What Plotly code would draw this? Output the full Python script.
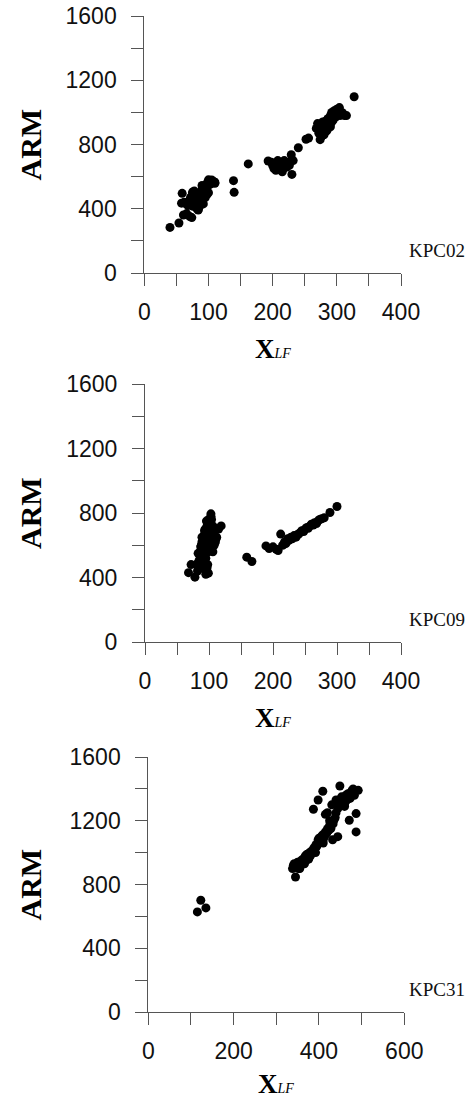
import plotly.graph_objects as go

# ---------------- data ----------------
kpc02_x = [40, 54, 59, 61, 71, 76, 58, 62, 65, 68, 70, 72, 74, 75, 76, 78, 80, 80, 82, 84,
           85, 86, 88, 88, 90, 90, 92, 94, 95, 96, 98, 98, 100, 102, 104, 106, 108, 110, 86, 92,
           78, 74, 66, 90, 96, 100, 84, 80, 105, 110, 84,
           139, 140, 162,
           193, 198, 200, 202, 205, 207, 208, 210, 212, 213, 215, 217, 218, 220, 222, 224, 226, 230,
           229, 232, 205, 215, 210,
           240, 252, 256,
           268, 270, 272, 274, 275, 276, 278, 280, 280, 282, 284, 285, 286, 288, 290, 290, 292, 294,
           295, 296, 298, 300, 300, 302, 304, 305, 308, 310, 312, 315, 272, 276, 283, 292, 327]
kpc02_y = [284, 311, 496, 361, 351, 506, 435, 440, 430, 420, 445, 470, 440, 500, 415, 455, 480, 430, 400, 395,
           450, 470, 440, 500, 460, 520, 480, 510, 470, 540, 490, 560, 580, 550, 570, 560, 570, 565, 415, 430,
           510, 345, 370, 545, 520, 500, 490, 460, 579, 558, 392,
           575, 502, 679,
           697, 690, 670, 650, 640, 680, 700, 660, 690, 640, 670, 650, 700, 680, 660, 690, 670, 614,
           736, 700, 660, 630, 645,
           780, 833, 840,
           900, 930, 870, 830, 910, 880, 940, 900, 860, 920, 950, 890, 960, 930, 980, 910, 1000, 950,
           990, 1010, 970, 1020, 990, 1000, 1030, 980, 1000, 990, 980, 980, 920, 850, 880, 940, 1097]

kpc09_x = [68, 78, 99, 72, 82, 85, 86, 88, 88, 89, 90, 90, 91, 92, 92, 93, 94, 94, 95, 95,
           96, 96, 97, 97, 98, 98, 99, 99, 100, 100, 101, 101, 102, 102, 103, 103, 104, 104, 105, 106,
           107, 108, 110, 112, 115, 119, 103, 100, 92, 88, 95, 97, 105, 110, 84, 90,
           80, 86, 83, 89, 87, 93, 96, 108, 111, 106,
           159, 167,
           189, 194, 200, 205, 208, 212, 215, 218, 220, 223, 225, 228, 230, 233, 236, 238, 240, 243,
           245, 248, 250, 253, 255, 258, 260, 263, 265, 268, 270, 273, 276, 280, 289, 300]
kpc09_y = [430, 402, 427, 480, 440, 470, 520, 560, 600, 650, 500, 620, 540, 580, 660, 450, 600, 700, 520, 640,
           560, 680, 600, 720, 480, 640, 560, 700, 620, 740, 660, 760, 580, 700, 640, 780, 680, 760, 700, 720,
           660, 690, 700, 650, 700, 720, 795, 760, 470, 530, 420, 460, 600, 620, 500, 580,
           480, 510, 550, 620, 590, 690, 750, 600, 640, 560,
           526, 499,
           596, 580, 590, 575, 567, 669, 600, 620, 610, 640, 630, 650, 640, 660, 650, 665, 670, 680,
           690, 685, 700, 710, 705, 720, 730, 725, 740, 735, 750, 760, 764, 770, 803, 840]

kpc31_x = [123, 115, 135,
           340, 345, 338, 342, 348, 350, 353, 355, 358, 360, 363, 365, 368, 370, 372, 375, 378, 380,
           383, 385, 388, 390, 393, 395, 398, 400, 402, 405, 408, 410, 413, 415, 418, 420, 423, 425,
           428, 430, 433, 435, 438, 440, 442, 445, 448, 450, 453, 455, 458, 460, 463, 465, 468, 470,
           473, 475, 478, 480, 483, 487, 487, 492, 471, 449, 409, 387, 398, 430, 420, 440, 460, 425,
           352, 366, 376, 392, 410, 432, 444, 415]
kpc31_y = [701, 628, 653,
           920, 847, 900, 930, 910, 940, 920, 900, 950, 930, 960, 940, 980, 950, 990, 970, 1000, 980,
           1010, 1000, 1030, 1020, 1050, 1040, 1080, 1090, 1070, 1098, 1110, 1080, 1100, 1130, 1120, 1150,
           1140, 1170, 1151, 1190, 1180, 1203, 1220, 1250, 1300, 1280, 1330, 1310, 1350, 1320, 1340, 1300,
           1360, 1330, 1370, 1350, 1340, 1380, 1390, 1400, 1360, 1130, 1245, 1391, 1203, 1418, 1385, 1272,
           1330, 1300, 1250, 1330, 1290, 1200,
           900, 930, 960, 1000, 1060, 1080, 1100, 1240]

x_ranges = [[0, 400], [0, 400], [0, 600]]
x_dticks = [100, 100, 200]
x_minor = [50, 50, 100]
y_range = [0, 1600]
y_dtick = 400
y_minor = 200
labels = ["KPC02", "KPC09", "KPC31"]

W, H = 476, 1101
panels = [(144.3, 401, 16, 273), (145, 401, 384, 642), (148.3, 404.3, 757, 1012)]
xtitle_offset = [76, 76, 72]

fig = go.Figure()
datasets = [(kpc02_x, kpc02_y), (kpc09_x, kpc09_y), (kpc31_x, kpc31_y)]
axis_col = "#555555"
tick_font = dict(family="Liberation Sans, Arial, sans-serif", size=23, color="#111111")
serif = "Liberation Serif, Times New Roman, serif"

annotations = []
for i, ((xs, ys), (l, r, t, b)) in enumerate(zip(datasets, panels)):
    n = "" if i == 0 else str(i + 1)
    fig.add_trace(go.Scatter(x=xs, y=ys, mode="markers",
                             marker=dict(color="black", size=9, line=dict(width=0)),
                             xaxis="x" + n, yaxis="y" + n, showlegend=False))
    xd = [l / W, r / W]
    yd = [1 - b / H, 1 - t / H]
    fig.layout["xaxis" + n] = dict(
        domain=xd, range=x_ranges[i], dtick=x_dticks[i], tick0=0, anchor="y" + n,
        automargin=False,
        showline=True, linecolor=axis_col, linewidth=1, showgrid=False, zeroline=False,
        ticks="outside", ticklen=12, tickcolor=axis_col, tickwidth=1,
        minor=dict(dtick=x_minor[i], ticks="outside", ticklen=12, tickcolor=axis_col,
                   tickwidth=1, showgrid=False),
        tickfont=tick_font, ticklabelstandoff=6, fixedrange=True)
    fig.layout["yaxis" + n] = dict(
        domain=yd, range=y_range, dtick=y_dtick, tick0=0, anchor="x" + n,
        automargin=False,
        showline=True, linecolor=axis_col, linewidth=1, showgrid=False, zeroline=False,
        ticks="outside", ticklen=12, tickcolor=axis_col, tickwidth=1,
        minor=dict(dtick=y_minor, ticks="outside", ticklen=12, tickcolor=axis_col,
                   tickwidth=1, showgrid=False),
        tickfont=tick_font, ticklabelstandoff=10, fixedrange=True)
    annotations.append(dict(
        text="<b>ARM</b>", xref="paper", yref="paper", x=30 / W, y=1 - (t + b) / 2 / H,
        xanchor="center", yanchor="middle", textangle=-90, showarrow=False,
        font=dict(family=serif, size=30, color="black")))
    annotations.append(dict(
        text="<b>X</b><i><span style='font-size:14px'>LF</span></i>", xref="paper", yref="paper",
        x=(l + r) / 2 / W, y=1 - (b + xtitle_offset[i]) / H, xanchor="center", yanchor="middle",
        showarrow=False, borderpad=0, font=dict(family=serif, size=27, color="black")))
    annotations.append(dict(
        text=labels[i], xref="paper", yref="paper", x=467 / W, y=1 - (b - 23) / H,
        xanchor="right", yanchor="middle", showarrow=False,
        font=dict(family=serif, size=19, color="#111111")))

fig.update_layout(width=W, height=H, margin=dict(l=0, r=0, t=0, b=0, autoexpand=False),
                  paper_bgcolor="white", plot_bgcolor="white",
                  annotations=annotations, showlegend=False)
fig.write_html("out.html", config={"displayModeBar": False},
               post_script="document.body.style.margin='0';document.documentElement.style.overflow='hidden';")
